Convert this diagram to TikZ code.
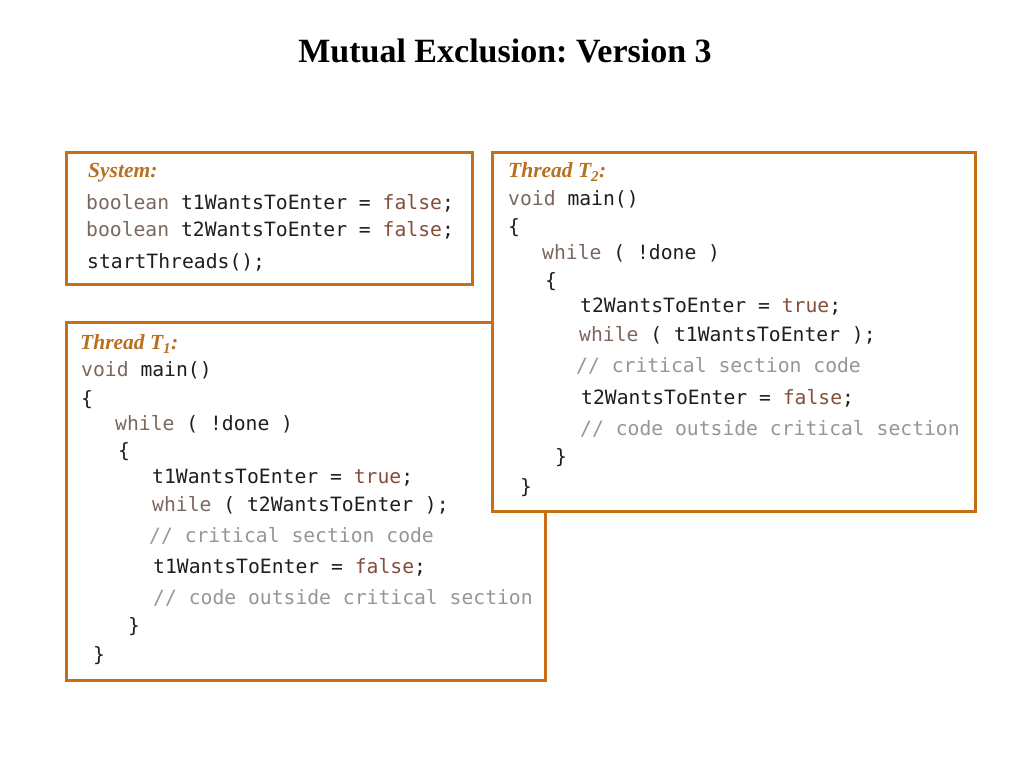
\documentclass[tikz,border=0pt]{standalone}
\usepackage{fontspec}
\setmainfont{Liberation Serif}
\setmonofont{DejaVu Sans Mono}
\frenchspacing
\definecolor{boxorange}{RGB}{200,110,22}
\definecolor{headc}{RGB}{185,112,30}
\definecolor{kwc}{RGB}{122,104,94}
\definecolor{litc}{RGB}{132,78,58}
\definecolor{cmtc}{RGB}{150,150,150}
\definecolor{identc}{RGB}{30,30,30}
\newcommand{\kwd}[1]{\textcolor{kwc}{#1}}
\newcommand{\litv}[1]{\textcolor{litc}{#1}}
\newcommand{\cmnt}[1]{\textcolor{cmtc}{#1}}
\begin{document}
\begin{tikzpicture}[x=1pt,y=-1pt,
	frame/.style={draw=boxorange, line width=3pt, fill=white},
	code/.style={anchor=west, inner sep=0pt, text=identc, text height=14pt, text depth=4pt,
		yshift=-2pt, font=\fontsize{19.7}{22}\selectfont\ttfamily},
	head/.style={anchor=west, inner sep=0pt, text=headc, yshift=-1pt,
		font=\fontsize{21.5}{24}\selectfont\bfseries\itshape}]
		\useasboundingbox (0,0) rectangle (1024,768);
		%title
		\node (title) at (505,51) {\fontsize{34}{38}\selectfont\bfseries Mutual Exclusion: Version 3};
		
		%system box
		\draw[frame] (66,152) rectangle (472,284);
		\node[head] (sys) at (88,172){System:};
		\node[code] (s1) at (86,202){\kwd{boolean} t1WantsToEnter = \litv{false};};
		\node[code] (s2) at (86,229){\kwd{boolean} t2WantsToEnter = \litv{false};};
		\node[code] (s3) at (87,261){startThreads();};
		
		%thread 1
		\draw[frame] (66,322) rectangle (545,680);
		\node[head] (h1) at (80,343){Thread T\textsubscript{1}:};
		\node[code] (a1) at (81,369){\kwd{void} main()};
		\node[code] (a2) at (81,398){\{};
		\node[code] (a3) at (115,423){\kwd{while} ( !done )};
		\node[code] (a4) at (118,450){\{};
		\node[code] (a5) at (152,476){t1WantsToEnter = \litv{true};};
		\node[code] (a6) at (152,504){\kwd{while} ( t2WantsToEnter );};
		\node[code] (a7) at (149,535){\cmnt{// critical section code}};
		\node[code] (a8) at (153,566){t1WantsToEnter = \litv{false};};
		\node[code] (a9) at (153,597){\cmnt{// code outside critical section}};
		\node[code] (a10) at (128,625){\}};
		\node[code] (a11) at (93,654){\}};
		
		%thread 2
		\draw[frame] (492,152) rectangle (975,511);
		\node[head] (h2) at (508,171){Thread T\textsubscript{2}:};
		\node[code] (b1) at (508,198){\kwd{void} main()};
		\node[code] (b2) at (508,226){\{};
		\node[code] (b3) at (542,252){\kwd{while} ( !done )};
		\node[code] (b4) at (545,280){\{};
		\node[code] (b5) at (580,305){t2WantsToEnter = \litv{true};};
		\node[code] (b6) at (579,334){\kwd{while} ( t1WantsToEnter );};
		\node[code] (b7) at (576,365){\cmnt{// critical section code}};
		\node[code] (b8) at (581,397){t2WantsToEnter = \litv{false};};
		\node[code] (b9) at (580,428){\cmnt{// code outside critical section}};
		\node[code] (b10) at (555,456){\}};
		\node[code] (b11) at (520,486){\}};
\end{tikzpicture}
\end{document}
